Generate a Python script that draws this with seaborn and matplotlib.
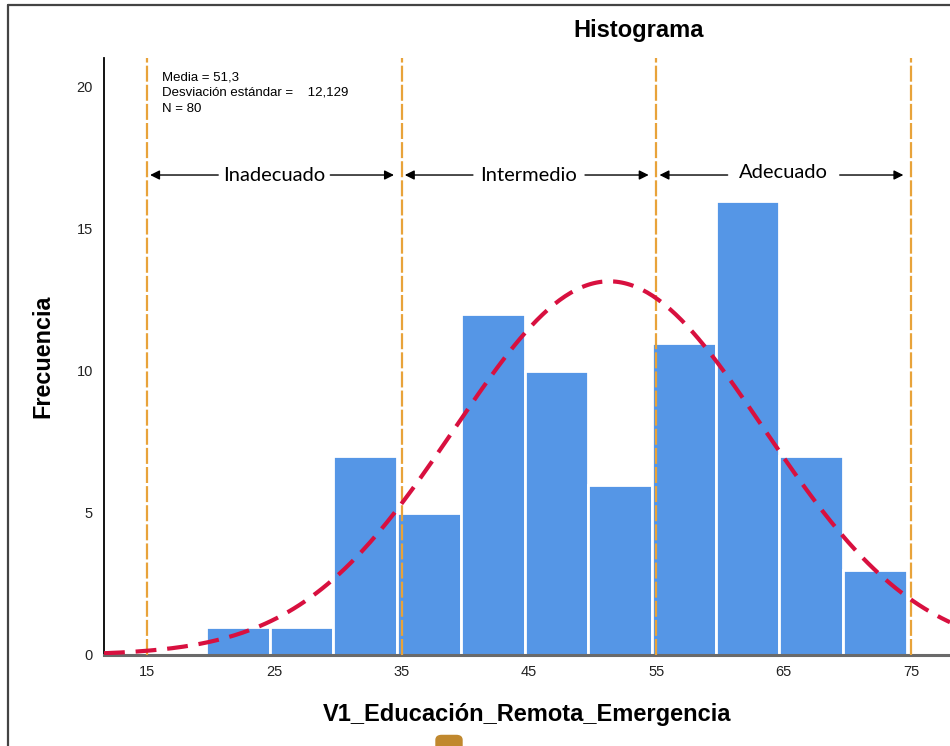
import numpy as np
import pandas as pd
import matplotlib.pyplot as plt
from matplotlib.patches import FancyBboxPatch
from matplotlib.lines import Line2D
import seaborn as sns

# data
bin_start = 19.65
bin_width = 5.0
counts = [1, 1, 7, 5, 12, 10, 6, 11, 16, 7, 3]
media = 51.3
desviacion = 12.129
n_total = 80
cortes = [15, 35, 55, 75]
niveles = ["Inadecuado", "Intermedio", "Adecuado"]
x_ticks = [15, 25, 35, 45, 55, 65, 75]
y_ticks = [0, 5, 10, 15, 20]

sns.set_style("white")
plt.rcParams['font.family'] = ['Liberation Sans', 'DejaVu Sans']
plt.rcParams['text.color'] = 'black'
plt.rcParams['xtick.color'] = '#222222'
plt.rcParams['ytick.color'] = '#222222'

BAR = "#5596e6"
CURVE = "#d8103f"
VLINE = "#e8a33a"

edges = [bin_start + bin_width * i for i in range(len(counts) + 1)]
centers = [e + bin_width / 2 for e in edges[:-1]]
df = pd.DataFrame({"valor": centers, "frecuencia": counts})

fig = plt.figure(figsize=(9.5, 7.46), dpi=100)
ax = fig.add_axes([104 / 950, 1 - 655 / 746, 846 / 950, 597 / 746])

sns.histplot(data=df, x="valor", weights="frecuencia", bins=edges,
             color=BAR, alpha=1, edgecolor="white", linewidth=2, ax=ax)

xmin, xmax = 11.63, 78.06
xs = np.linspace(xmin, xmax, 300)
dens = n_total * bin_width / (desviacion * np.sqrt(2 * np.pi)) * \
    np.exp(-0.5 * ((xs - media) / desviacion) ** 2)
sns.lineplot(x=xs, y=dens, color=CURVE, lw=3, ax=ax, zorder=5)
ax.lines[-1].set_dashes((5, 2.6))

for c in cortes:
    ax.axvline(c, color=VLINE, lw=1.6, dashes=(7.2, 1.4), zorder=4)

y_arrow = 16.9
for i, name in enumerate(niveles):
    a, b = cortes[i], cortes[i + 1]
    mid = (a + b) / 2
    yy = y_arrow + (0.1 if name == "Adecuado" else 0)
    ax.text(mid, yy, name, ha="center", va="center", fontsize=14.5,
            family=["Lato", "DejaVu Sans"], zorder=6)
    ax.annotate("", xy=(a + 0.25, y_arrow), xytext=(mid - 4.4, y_arrow),
                arrowprops=dict(arrowstyle="-|>", color="black", lw=1,
                                mutation_scale=14, shrinkA=0, shrinkB=0))
    ax.annotate("", xy=(b - 0.6, y_arrow), xytext=(mid + 4.4, y_arrow),
                arrowprops=dict(arrowstyle="-|>", color="black", lw=1,
                                mutation_scale=14, shrinkA=0, shrinkB=0))

ax.text(16.2, 20.55,
        "Media = 51,3\nDesviación estándar =    12,129\nN = 80",
        ha="left", va="top", fontsize=9.5, linespacing=1.4)

ax.set_xlim(xmin, xmax)
ax.set_ylim(0, 21.02)
ax.set_xticks(x_ticks)
ax.set_yticks(y_ticks)
ax.tick_params(axis="x", length=0, labelsize=10.5, pad=7)
ax.tick_params(axis="y", length=0, labelsize=10.5, pad=8)
ax.set_xlabel("")
ax.set_ylabel("")
for s in ["top", "right"]:
    ax.spines[s].set_visible(False)
ax.spines["left"].set_color("black")
ax.spines["left"].set_linewidth(1.3)
ax.spines["bottom"].set_color("#6a6a6a")
ax.spines["bottom"].set_linewidth(2.2)

fig.text(639 / 950, 1 - 30 / 746, "Histograma", ha="center", va="center",
         fontsize=17, fontweight="bold")
fig.text(527 / 950, 1 - 714 / 746, "V1_Educación_Remota_Emergencia",
         ha="center", va="center", fontsize=17, fontweight="bold")
fig.text(43 / 950, 1 - 356 / 746, "Frecuencia", ha="center", va="center",
         rotation=90, fontsize=16.8, fontweight="bold")

# screenshot frame and cropped legend tab
fig.add_artist(Line2D([8 / 950, 8 / 950], [0, 1 - 5 / 746], color="#444444",
                      lw=1.6, transform=fig.transFigure))
fig.add_artist(Line2D([8 / 950, 1], [1 - 5 / 746, 1 - 5 / 746],
                      color="#444444", lw=1.6, transform=fig.transFigure))
fig.add_artist(FancyBboxPatch((436 / 950, -0.01), 26 / 950, 18 / 746,
                              boxstyle="round,pad=0,rounding_size=0.006",
                              color="#c0882e", transform=fig.transFigure))

fig.savefig("out.png", dpi=100)
